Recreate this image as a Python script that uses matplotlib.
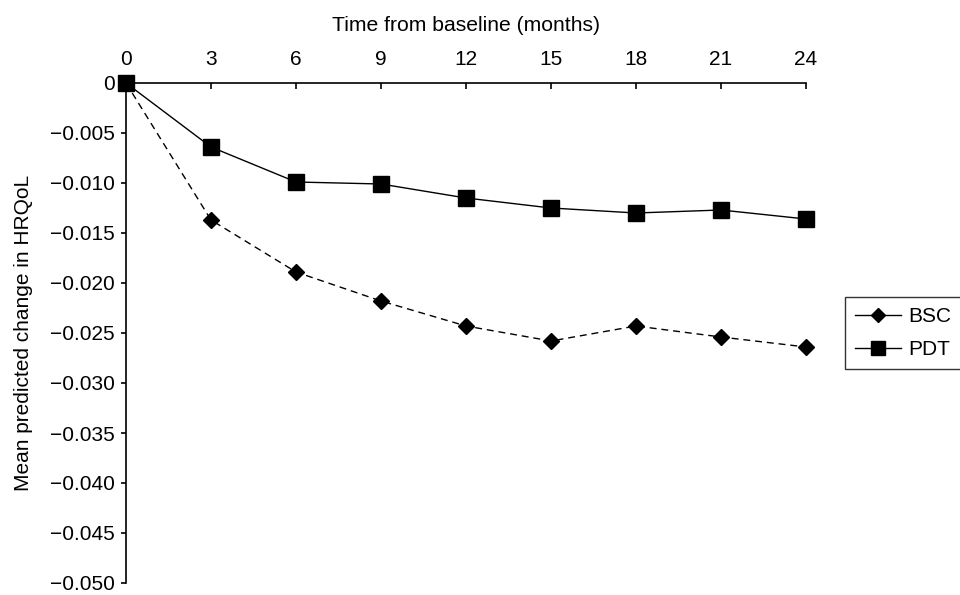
import matplotlib.pyplot as plt
from matplotlib.lines import Line2D
from matplotlib.ticker import FuncFormatter

plt.rcParams['font.family'] = ['Liberation Sans', 'DejaVu Sans']

months = [0, 3, 6, 9, 12, 15, 18, 21, 24]
bsc = [0, -0.0137, -0.0189, -0.0218, -0.0243, -0.0258, -0.0243, -0.0254, -0.0264]
pdt = [0, -0.0064, -0.0099, -0.0101, -0.0115, -0.0125, -0.0130, -0.0127, -0.0136]
y_ticks = [0, -0.005, -0.010, -0.015, -0.020, -0.025, -0.030, -0.035, -0.040, -0.045, -0.050]


def fmt(v, pos):
    if abs(v) < 1e-12:
        return "0"
    return "\u2212%.3f" % abs(v)


fig = plt.figure(figsize=(9.6, 5.95), dpi=100)
ax = fig.add_axes([126 / 960, 1 - 583 / 595, (806 - 126) / 960, 500 / 595])

ax.plot(months, bsc, color='black', linestyle=(0, (5, 3.5)), linewidth=1,
        marker='D', markersize=8.5, clip_on=False, zorder=3)
ax.plot(months, pdt, color='black', linestyle='-', linewidth=1,
        marker='s', markersize=11, clip_on=False, zorder=4)

ax.set_xlim(0, 24)
ax.set_ylim(-0.050, 0)
ax.set_xticks(months)
ax.set_yticks(y_ticks)
ax.yaxis.set_major_formatter(FuncFormatter(fmt))

ax.spines['right'].set_visible(False)
ax.spines['bottom'].set_visible(False)
ax.spines['top'].set_linewidth(1.2)
ax.spines['left'].set_linewidth(1.2)

ax.xaxis.tick_top()
ax.xaxis.set_label_position('top')
ax.tick_params(axis='x', direction='in', length=4.3, width=1.2, labelsize=15, pad=9.8)
ax.tick_params(axis='y', direction='out', length=3.6, width=1.2, labelsize=15, pad=4.5)

ax.set_xlabel("Time from baseline (months)", fontsize=15.2, labelpad=14)
ax.set_ylabel("Mean predicted change in HRQoL", fontsize=15, labelpad=12)

handles = [
    Line2D([], [], color='black', linewidth=1, marker='D', markersize=7.5),
    Line2D([], [], color='black', linewidth=1, marker='s', markersize=9.5),
]
leg = fig.legend(handles, ["BSC", "PDT"], loc='upper left',
                 bbox_to_anchor=(845 / 960, 1 - 297 / 595), fontsize=15,
                 frameon=True, fancybox=False, edgecolor='black',
                 handlelength=2.2, borderpad=0.5, labelspacing=0.65,
                 handletextpad=0.35, borderaxespad=0)
leg.get_frame().set_linewidth(1)

fig.savefig("out.png", dpi=100)
